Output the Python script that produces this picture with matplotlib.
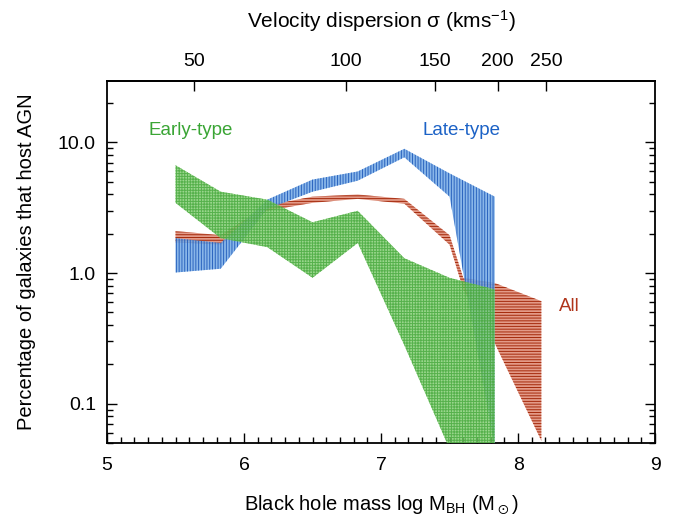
import numpy as np
import matplotlib
matplotlib.use("Agg")
import matplotlib.pyplot as plt
from matplotlib.ticker import FixedLocator, NullFormatter, LogLocator, MultipleLocator, FixedFormatter

plt.rcParams['font.family'] = ['Liberation Sans', 'DejaVu Sans']
plt.rcParams['mathtext.default'] = 'regular'
plt.rcParams['hatch.linewidth'] = 0.7

# Early-type (green)
early_x = [5.5, 5.83, 6.17, 6.5, 6.83, 7.17, 7.5, 7.83]
early_hi = [6.7, 4.2, 3.65, 2.45, 3.0, 1.3, 0.92, 0.75]
early_lo = [3.45, 1.85, 1.58, 0.92, 1.7, 0.28, 0.045, 0.04]

# Late-type (blue)
late_x = [5.5, 5.83, 6.17, 6.5, 6.83, 7.17, 7.5, 7.83]
late_hi = [1.85, 1.7, 3.65, 5.2, 6.0, 8.95, 5.8, 3.85]
late_lo = [1.01, 1.08, 3.1, 4.2, 5.1, 7.7, 3.85, 0.045]

# All (red)
all_x = [5.5, 5.83, 6.17, 6.5, 6.83, 7.17, 7.5, 7.6, 7.83, 8.17]
all_hi = [2.1, 1.95, 3.3, 3.85, 4.0, 3.7, 1.95, 0.92, 0.84, 0.61]
all_lo = [1.72, 1.65, 3.0, 3.45, 3.7, 3.4, 1.65, 0.75, 0.29, 0.052]

sigma_ticks = [50, 100, 150, 200, 250]
y_ticks = [0.1, 1.0, 10.0]
y_labels = ['0.1', '1.0', '10.0']

fig = plt.figure(figsize=(6.75, 5.16), dpi=100)
ax = fig.add_axes([0.1585, 0.1415, 0.812, 0.702])

ax.fill_between(all_x, all_lo, all_hi, facecolor='#e39a88', edgecolor='#a52a0c',
                hatch='------', linewidth=0, zorder=2)
ax.fill_between(late_x, late_lo, late_hi, facecolor='#74aae6', edgecolor='#1a56b8',
                hatch='||||||', linewidth=0, alpha=0.85, zorder=3)
ax.fill_between(early_x, early_lo, early_hi, facecolor='#80cc70', edgecolor='#46a83c',
                hatch='++++++', linewidth=0, alpha=0.8, zorder=4)

ax.set_yscale('log')
ax.set_xlim(5, 9)
ax.set_ylim(0.05, 29.7)

ax.yaxis.set_major_locator(FixedLocator(y_ticks))
ax.yaxis.set_major_formatter(FixedFormatter(y_labels))
ax.yaxis.set_minor_locator(LogLocator(base=10, subs=np.arange(2, 10)))
ax.yaxis.set_minor_formatter(NullFormatter())
ax.xaxis.set_major_locator(MultipleLocator(1))
ax.xaxis.set_minor_locator(MultipleLocator(0.1))

ax.tick_params(which='both', direction='in', right=True, top=False, labelsize=14,
               width=1.0, color='black')
ax.tick_params(which='major', length=7)
ax.tick_params(which='minor', length=4)
ax.tick_params(axis='x', pad=10)
ax.tick_params(axis='y', pad=8)
for s in ax.spines.values():
    s.set_linewidth(1.3)

def m2s(m):
    return 200.0 * 10 ** ((np.asarray(m) - 7.85) / 3.68)

def s2m(s):
    s = np.clip(np.asarray(s, dtype=float), 1e-6, None)
    return 7.85 + 3.68 * np.log10(s / 200.0)

sec = ax.secondary_xaxis('top', functions=(m2s, s2m))
sec.xaxis.set_major_locator(FixedLocator(sigma_ticks))
sec.xaxis.set_minor_locator(FixedLocator([]))
sec.tick_params(direction='in', length=7, labelsize=14, width=1.0, pad=8)
sec.spines['top'].set_linewidth(1.3)
sec.set_xlabel('Velocity dispersion σ (kms$^{-1}$)', fontsize=15, labelpad=18)

ax.set_xlabel('Black hole mass log M$_{BH}$ (M$_\\odot$)', fontsize=14.5, labelpad=14)
ax.set_ylabel('Percentage of galaxies that host AGN', fontsize=14.5, labelpad=16)

ax.text(5.3, 12.3, 'Early-type', color='#3aa535', fontsize=13.5, va='center', ha='left', zorder=6)
ax.text(7.3, 12.3, 'Late-type', color='#1c62c6', fontsize=13.5, va='center', ha='left', zorder=6)
ax.text(8.3, 0.555, 'All', color='#b0341a', fontsize=13.5, va='center', ha='left', zorder=6)

fig.savefig('out.png', dpi=100)
